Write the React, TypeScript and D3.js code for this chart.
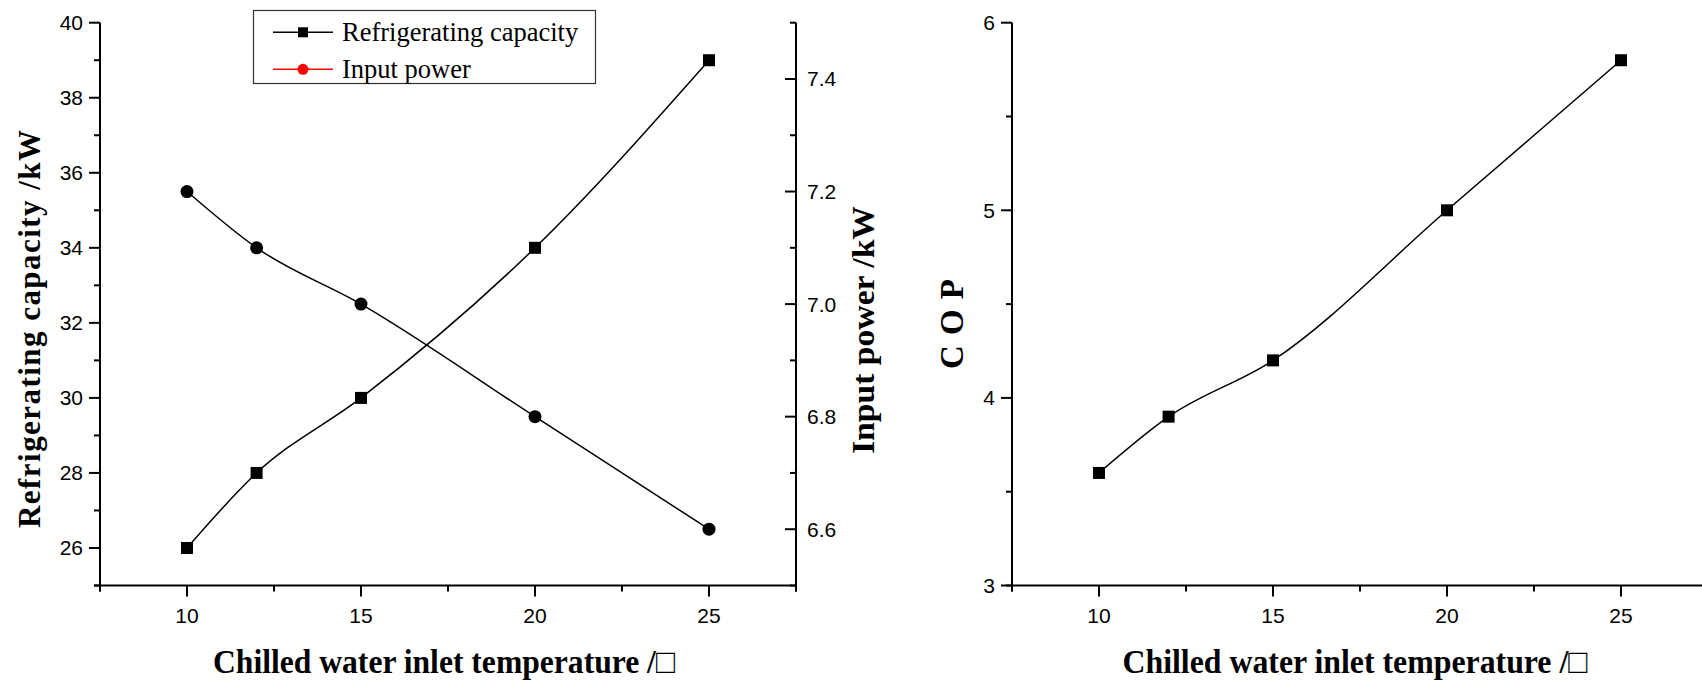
import React from "react";
import * as d3 from "d3";

const temps = [10, 12, 15, 20, 25];
const capacity = [26, 28, 30, 34, 39];
const inputPower = [7.2, 7.1, 7.0, 6.8, 6.6];
const cop = [3.6, 3.9, 4.2, 5.0, 5.8];

const xMajor = [10, 15, 20, 25];
const xMinor = [7.5, 12.5, 17.5, 22.5, 27.5];
const capMajor = [26, 28, 30, 32, 34, 36, 38, 40];
const capMinor = [25, 27, 29, 31, 33, 35, 37, 39];
const powMajor = [6.6, 6.8, 7.0, 7.2, 7.4];
const powMinor = [6.5, 6.7, 6.9, 7.1, 7.3, 7.5];
const copMajor = [3, 4, 5, 6];
const copMinor = [3.5, 4.5, 5.5];

const xTitle = "Chilled water inlet temperature /\u25A1";
const legendItems = [
  { label: "Refrigerating capacity", color: "#000", marker: "square" },
  { label: "Input power", color: "#ff0000", marker: "circle" },
];

const TICK_FONT = "Arial, 'Liberation Sans', sans-serif";
const SERIF = "'Times New Roman', 'Liberation Serif', serif";

function Square({ x, y, s = 12, fill = "#000" }: { x: number; y: number; s?: number; fill?: string }) {
  return <rect x={x - s / 2} y={y - s / 2} width={s} height={s} fill={fill} />;
}

export default function App() {
  const W = 1702, H = 684;
  const top = 22.7, bottom = 585.5;
  const xL = d3.scaleLinear().domain([7.5, 27.5]).range([100, 796]);
  const yCap = d3.scaleLinear().domain([25, 40]).range([bottom, top]);
  const yPow = d3.scaleLinear().domain([6.5, 7.5]).range([bottom, top]);
  const xR = d3.scaleLinear().domain([7.5, 27.5]).range([1012, 1708]);
  const yCop = d3.scaleLinear().domain([3, 6]).range([bottom, top]);

  const curve = d3.curveMonotoneX;
  const capLine = d3.line<number>().x((_, i) => xL(temps[i])).y((d) => yCap(d)).curve(curve);
  const powLine = d3.line<number>().x((_, i) => xL(temps[i])).y((d) => yPow(d)).curve(curve);
  const copLine = d3.line<number>().x((_, i) => xR(temps[i])).y((d) => yCop(d)).curve(curve);

  const sw = 2;

  const xAxis = (x: d3.ScaleLinear<number, number>, x0: number, x1: number) => (
    <g>
      <line x1={x0} x2={x1} y1={bottom} y2={bottom} stroke="#000" strokeWidth={sw} />
      {xMajor.map((t) => (
        <g key={"M" + t}>
          <line x1={x(t)} x2={x(t)} y1={bottom} y2={bottom + 11} stroke="#000" strokeWidth={sw} />
          <text x={x(t)} y={bottom + 30} textAnchor="middle" dominantBaseline="central" fontFamily={TICK_FONT} fontSize={21}>
            {t}
          </text>
        </g>
      ))}
      {xMinor.map((t) => (
        <line key={"m" + t} x1={x(t)} x2={x(t)} y1={bottom} y2={bottom + 6} stroke="#000" strokeWidth={sw} />
      ))}
    </g>
  );

  return (
    <div style={{ position: "fixed", left: 0, top: 0 }}>
      <svg width={W} height={H} viewBox={`0 0 ${W} ${H}`} style={{ display: "block", background: "#fff" }}>
        <rect width={W} height={H} fill="#fff" />
        {/* LEFT CHART */}
        {xAxis(xL, 94, 796)}
        <line x1={100} x2={100} y1={top} y2={bottom + 6} stroke="#000" strokeWidth={sw} />
        {capMajor.map((t) => (
          <g key={"cM" + t}>
            <line x1={89} x2={100} y1={yCap(t)} y2={yCap(t)} stroke="#000" strokeWidth={sw} />
            <text x={83} y={yCap(t)} textAnchor="end" dominantBaseline="central" fontFamily={TICK_FONT} fontSize={21}>
              {t}
            </text>
          </g>
        ))}
        {capMinor.map((t) => (
          <line key={"cm" + t} x1={94} x2={100} y1={yCap(t)} y2={yCap(t)} stroke="#000" strokeWidth={sw} />
        ))}
        <line x1={796} x2={796} y1={top} y2={bottom + 6} stroke="#000" strokeWidth={sw} />
        {powMajor.map((t) => (
          <g key={"pM" + t}>
            <line x1={785} x2={796} y1={yPow(t)} y2={yPow(t)} stroke="#000" strokeWidth={sw} />
            <text x={807} y={yPow(t)} textAnchor="start" dominantBaseline="central" fontFamily={TICK_FONT} fontSize={21}>
              {t.toFixed(1)}
            </text>
          </g>
        ))}
        {powMinor.map((t) => (
          <line key={"pm" + t} x1={790} x2={796} y1={yPow(t)} y2={yPow(t)} stroke="#000" strokeWidth={sw} />
        ))}
        <path d={capLine(capacity) || ""} fill="none" stroke="#000" strokeWidth={1.5} />
        <path d={powLine(inputPower) || ""} fill="none" stroke="#000" strokeWidth={1.5} />
        {capacity.map((v, i) => (
          <Square key={"cs" + i} x={xL(temps[i])} y={yCap(v)} />
        ))}
        {inputPower.map((v, i) => (
          <circle key={"pc" + i} cx={xL(temps[i])} cy={yPow(v)} r={6.5} fill="#000" />
        ))}
        {/* legend */}
        <rect x={253.5} y={10.5} width={342} height={73} fill="#fff" stroke="#333" strokeWidth={1.2} />
        {legendItems.map((it, i) => {
          const ly = 32.3 + i * 37;
          return (
            <g key={it.label}>
              <line x1={273} x2={333} y1={ly} y2={ly} stroke={it.color} strokeWidth={1.6} />
              {it.marker === "square" ? (
                <Square x={303} y={ly} s={10} fill={it.color} />
              ) : (
                <circle cx={303} cy={ly} r={5.5} fill={it.color} />
              )}
              <text x={342} y={ly} dominantBaseline="central" fontFamily={SERIF} fontSize={26.5}>
                {it.label}
              </text>
            </g>
          );
        })}
        {/* titles */}
        <text
          transform={`translate(29,329) rotate(-90)`}
          textAnchor="middle"
          dominantBaseline="central"
          fontFamily={SERIF}
          fontWeight="bold"
          fontSize={31}
          textLength={398}
          lengthAdjust="spacing"
        >
          Refrigerating capacity /kW
        </text>
        <text
          transform={`translate(863,330) rotate(-90)`}
          textAnchor="middle"
          dominantBaseline="central"
          fontFamily={SERIF}
          fontWeight="bold"
          fontSize={32}
          textLength={248}
          lengthAdjust="spacingAndGlyphs"
        >
          Input power /kW
        </text>
        <text
          x={444}
          y={661}
          textAnchor="middle"
          dominantBaseline="central"
          fontFamily={SERIF}
          fontWeight="bold"
          fontSize={34}
          textLength={462}
          lengthAdjust="spacingAndGlyphs"
        >
          {xTitle}
        </text>

        {/* RIGHT CHART */}
        {xAxis(xR, 1006, 1708)}
        <line x1={1012} x2={1012} y1={top} y2={bottom + 6} stroke="#000" strokeWidth={sw} />
        {copMajor.map((t) => (
          <g key={"oM" + t}>
            <line x1={1001} x2={1012} y1={yCop(t)} y2={yCop(t)} stroke="#000" strokeWidth={sw} />
            <text x={995} y={yCop(t)} textAnchor="end" dominantBaseline="central" fontFamily={TICK_FONT} fontSize={21}>
              {t}
            </text>
          </g>
        ))}
        {copMinor.map((t) => (
          <line key={"om" + t} x1={1006} x2={1012} y1={yCop(t)} y2={yCop(t)} stroke="#000" strokeWidth={sw} />
        ))}
        <path d={copLine(cop) || ""} fill="none" stroke="#000" strokeWidth={1.5} />
        {cop.map((v, i) => (
          <Square key={"os" + i} x={xR(temps[i])} y={yCop(v)} />
        ))}
        <text
          transform={`translate(952,324) rotate(-90)`}
          textAnchor="middle"
          dominantBaseline="central"
          fontFamily={SERIF}
          fontWeight="bold"
          fontSize={33}
          textLength={90}
          lengthAdjust="spacing"
        >
          C O P
        </text>
        <text
          x={1355}
          y={661}
          textAnchor="middle"
          dominantBaseline="central"
          fontFamily={SERIF}
          fontWeight="bold"
          fontSize={34}
          textLength={465}
          lengthAdjust="spacingAndGlyphs"
        >
          {xTitle}
        </text>
      </svg>
    </div>
  );
}
